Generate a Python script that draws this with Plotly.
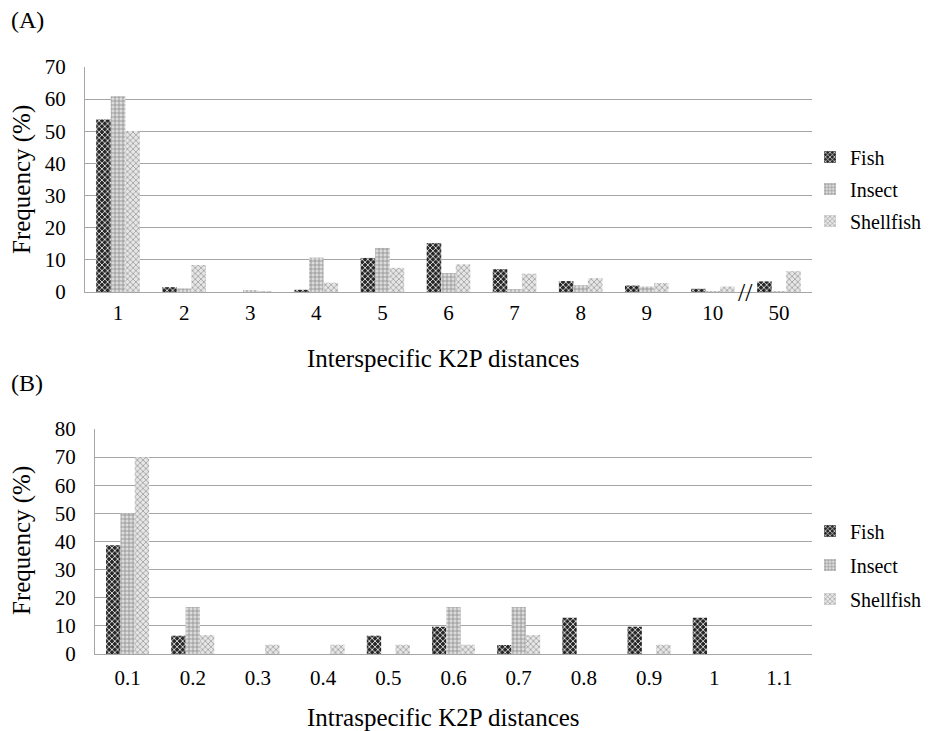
import plotly.graph_objects as go

# Panel A: interspecific K2P distances
cats_a = ["1", "2", "3", "4", "5", "6", "7", "8", "9", "10", "50"]
fish_a = [53.7, 1.5, 0.0, 0.7, 10.6, 15.2, 7.1, 3.4, 2.0, 1.0, 3.3]
insect_a = [60.9, 1.1, 0.6, 10.7, 13.7, 5.9, 0.9, 2.1, 1.7, 0.1, 0.1]
shell_a = [50.1, 8.4, 0.3, 2.9, 7.5, 8.6, 5.7, 4.3, 2.8, 1.7, 6.5]

# Panel B: intraspecific K2P distances
cats_b = ["0.1", "0.2", "0.3", "0.4", "0.5", "0.6", "0.7", "0.8", "0.9", "1", "1.1"]
fish_b = [38.7, 6.5, 0.0, 0.0, 6.5, 9.7, 3.2, 12.9, 9.7, 12.9, 0.0]
insect_b = [50.0, 16.7, 0.0, 0.0, 0.0, 16.7, 16.7, 0.0, 0.0, 0.0, 0.0]
shell_b = [70.0, 6.7, 3.3, 3.3, 3.3, 3.3, 6.7, 0.0, 3.3, 0.0, 0.0]

series_names = ["Fish", "Insect", "Shellfish"]

FONT = "Times New Roman, Liberation Serif, DejaVu Serif, serif"
# page body has an 8px margin; the figure is sized to fit the 933x731 window
OFF = 8
W, H = 933 - OFF, 731 - OFF

styles = {
    "Fish": dict(color="#2a2a2a", pattern=dict(shape="x", fgcolor="#ffffff", bgcolor="#262626",
                                                size=4, solidity=0.35, fillmode="replace")),
    "Insect": dict(color="#c4c4c4", pattern=dict(shape="+", fgcolor="#8a8a8a", bgcolor="#dcdcdc",
                                                  size=4, solidity=0.35, fillmode="replace")),
    "Shellfish": dict(color="#d0d0d0", pattern=dict(shape="x", fgcolor="#8c8c8c", bgcolor="#e6e6e6",
                                                     size=4, solidity=0.3, fillmode="replace")),
}

fig = go.Figure()

for name, vals in zip(series_names, [fish_a, insect_a, shell_a]):
    st = styles[name]
    fig.add_trace(go.Bar(
        x=cats_a, y=vals, name=name, xaxis="x", yaxis="y", legend="legend",
        legendgroup="a_" + name,
        marker=dict(color=st["color"], pattern=st["pattern"],
                    line=dict(color="#9a9a9a", width=0)),
    ))

for name, vals in zip(series_names, [fish_b, insect_b, shell_b]):
    st = styles[name]
    fig.add_trace(go.Bar(
        x=cats_b, y=vals, name=name, xaxis="x2", yaxis="y2", legend="legend2",
        legendgroup="b_" + name,
        marker=dict(color=st["color"], pattern=st["pattern"],
                    line=dict(color="#9a9a9a", width=0)),
    ))


def px_x(p):
    return (p - OFF) / W


def px_y(p):
    return 1 - (p - OFF) / H


tickfont = dict(family=FONT, size=21, color="black")
grid = "#a6a6a6"

fig.update_layout(
    width=W, height=H,
    margin=dict(l=0, r=0, t=0, b=0),
    paper_bgcolor="white", plot_bgcolor="white",
    barmode="group", bargap=0.34, bargroupgap=0.0,
    font=dict(family=FONT, size=20, color="black"),
    showlegend=True,
    xaxis=dict(domain=[px_x(85), px_x(812)], anchor="y", type="category",
               showgrid=False, showline=True, linecolor=grid, linewidth=1,
               ticks="", tickfont=tickfont, ticklabelstandoff=2, automargin=False),
    yaxis=dict(domain=[px_y(292), px_y(67)], anchor="x", range=[0, 70], dtick=10,
               showgrid=True, gridcolor=grid, gridwidth=1, zeroline=False,
               showline=True, linecolor=grid, linewidth=1,
               ticks="", tickfont=tickfont, ticklabelstandoff=14, automargin=False),
    xaxis2=dict(domain=[px_x(95), px_x(812)], anchor="y2", type="category",
                showgrid=False, showline=True, linecolor=grid, linewidth=1,
                ticks="", tickfont=tickfont, ticklabelstandoff=5, automargin=False),
    yaxis2=dict(domain=[px_y(654), px_y(429)], anchor="x2", range=[0, 80], dtick=10,
                showgrid=True, gridcolor=grid, gridwidth=1, zeroline=False,
                showline=True, linecolor=grid, linewidth=1,
                ticks="", tickfont=tickfont, ticklabelstandoff=14, automargin=False),
    legend=dict(x=px_x(810), y=px_y(189), xanchor="left", yanchor="middle",
                font=dict(family=FONT, size=20), bgcolor="rgba(0,0,0,0)",
                itemwidth=30, tracegroupgap=3),
    legend2=dict(x=px_x(810), y=px_y(565), xanchor="left", yanchor="middle",
                 font=dict(family=FONT, size=20), bgcolor="rgba(0,0,0,0)",
                 itemwidth=30, tracegroupgap=5),
)

title_font = dict(family=FONT, size=25, color="black")
panel_font = dict(family=FONT, size=24, color="black")
annotations = [
    dict(text="(A)", x=px_x(9), y=px_y(20), xref="paper", yref="paper",
         xanchor="left", yanchor="middle", showarrow=False, font=panel_font),
    dict(text="(B)", x=px_x(9), y=px_y(383), xref="paper", yref="paper",
         xanchor="left", yanchor="middle", showarrow=False, font=panel_font),
    dict(text="Interspecific K2P distances", x=px_x(443), y=px_y(358), xref="paper", yref="paper",
         xanchor="center", yanchor="middle", showarrow=False, font=title_font),
    dict(text="Intraspecific K2P distances", x=px_x(443), y=px_y(717), xref="paper", yref="paper",
         xanchor="center", yanchor="middle", showarrow=False, font=title_font),
    dict(text="Frequency (%)", x=px_x(22), y=px_y(180), xref="paper", yref="paper",
         textangle=-90, xanchor="center", yanchor="middle", showarrow=False, font=title_font),
    dict(text="Frequency (%)", x=px_x(22), y=px_y(541), xref="paper", yref="paper",
         textangle=-90, xanchor="center", yanchor="middle", showarrow=False, font=title_font),
    # axis break mark between "10" and "50"
    dict(text="//", x=9.5, y=0, xref="x", yref="y", xanchor="center", yanchor="middle",
         showarrow=False, font=dict(size=26, family=FONT, color="black")),
]
fig.update_layout(annotations=annotations)

fig.write_html("out.html")
